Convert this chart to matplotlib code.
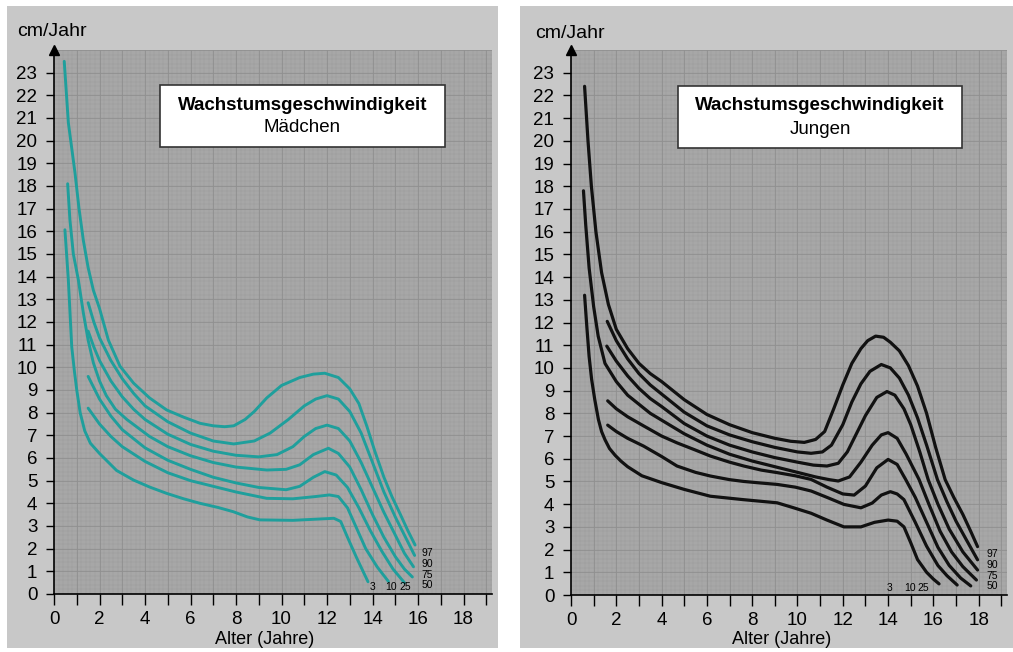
import numpy as np
import matplotlib.pyplot as plt
from matplotlib.patches import Rectangle

plt.rcParams['font.family'] = ['Liberation Sans', 'DejaVu Sans']

# Mädchen (percentile curves, Alter in Jahren / cm pro Jahr)
g97_x = [0.45, 0.63, 0.92, 1.1, 1.29, 1.5, 1.73, 2.0, 2.39, 2.9, 3.5, 4.2, 4.95, 5.7, 6.42, 7.0, 7.5, 7.9, 8.4, 8.8, 9.35, 10.0, 10.8, 11.4, 11.9, 12.5, 13.0, 13.4, 13.75, 14.1, 14.5, 14.85, 15.2, 15.55, 15.87]
g97_y = [23.5, 20.8, 18.6, 17.0, 15.6, 14.4, 13.4, 12.6, 11.2, 10.05, 9.3, 8.65, 8.12, 7.8, 7.53, 7.42, 7.38, 7.42, 7.7, 8.05, 8.65, 9.2, 9.55, 9.7, 9.74, 9.55, 9.05, 8.4, 7.4, 6.3, 5.15, 4.3, 3.56, 2.8, 2.16]
g90_x = [1.5, 1.75, 2.0, 2.5, 3.0, 3.5, 4.0, 5.0, 6.0, 7.0, 7.9, 8.8, 9.5, 10.3, 11.0, 11.5, 12.0, 12.5, 13.0, 13.5, 14.0, 14.5, 15.0, 15.5, 15.85]
g90_y = [12.85, 12.0, 11.3, 10.3, 9.5, 8.85, 8.3, 7.6, 7.1, 6.75, 6.62, 6.75, 7.1, 7.7, 8.3, 8.6, 8.75, 8.6, 8.05, 7.1, 5.8, 4.5, 3.4, 2.4, 1.7]
g75_x = [1.5, 1.75, 2.0, 2.5, 3.0, 3.5, 4.0, 5.0, 6.0, 7.0, 8.0, 9.0, 9.8, 10.5, 11.0, 11.5, 12.0, 12.5, 13.0, 13.5, 14.0, 14.5, 15.0, 15.4, 15.8]
g75_y = [11.6, 10.9, 10.3, 9.4, 8.7, 8.15, 7.7, 7.05, 6.6, 6.3, 6.12, 6.05, 6.15, 6.5, 6.95, 7.3, 7.45, 7.3, 6.75, 5.8, 4.7, 3.6, 2.6, 1.8, 1.2]
g50_x = [0.6, 0.7, 0.85, 1.07, 1.29, 1.5, 1.73, 2.0, 2.3, 2.7, 3.2, 4.2, 5.0, 6.0, 7.0, 8.0, 9.35, 10.2, 10.8, 11.4, 12.06, 12.5, 13.0, 13.5, 14.0, 14.5, 15.0, 15.4, 15.75]
g50_y = [18.1, 16.5, 15.0, 13.86, 12.4, 11.2, 10.2, 9.4, 8.75, 8.15, 7.7, 6.95, 6.5, 6.1, 5.8, 5.6, 5.47, 5.5, 5.7, 6.15, 6.43, 6.2, 5.6, 4.6, 3.5, 2.5, 1.65, 1.1, 0.75]
g25_x = [1.5, 2.0, 2.5, 3.0, 4.0, 5.0, 6.0, 7.0, 8.0, 9.0, 10.2, 10.8, 11.4, 11.9, 12.4, 12.9, 13.4, 13.9, 14.4, 14.9, 15.4]
g25_y = [9.6, 8.6, 7.85, 7.25, 6.45, 5.9, 5.5, 5.15, 4.9, 4.7, 4.6, 4.75, 5.15, 5.4, 5.25, 4.7, 3.8, 2.8, 1.9, 1.1, 0.5]
g10_x = [1.5, 2.0, 2.5, 3.0, 4.0, 5.0, 6.0, 7.0, 8.0, 9.35, 10.5, 11.5, 12.1, 12.5, 12.9, 13.3, 13.7, 14.2, 14.7]
g10_y = [8.2, 7.5, 6.95, 6.5, 5.85, 5.35, 5.0, 4.75, 4.5, 4.22, 4.2, 4.3, 4.37, 4.3, 3.8, 2.9, 2.0, 1.2, 0.55]
g3_x = [0.48, 0.63, 0.78, 0.9, 1.0, 1.15, 1.35, 1.6, 2.0, 2.4, 2.75, 3.49, 4.2, 4.95, 5.7, 6.42, 7.2, 7.88, 8.5, 9.05, 10.5, 12.3, 12.6, 12.9, 13.3, 13.8]
g3_y = [16.07, 13.86, 10.9, 9.8, 9.0, 8.0, 7.2, 6.65, 6.2, 5.8, 5.45, 5.03, 4.72, 4.44, 4.2, 4.0, 3.82, 3.63, 3.4, 3.27, 3.25, 3.34, 3.2, 2.5, 1.6, 0.54]

# Jungen
b97_x = [0.6, 0.75, 0.9, 1.1, 1.35, 1.65, 2.0, 2.5, 3.0, 3.5, 4.0, 5.0, 6.0, 7.0, 8.0, 9.0, 9.7, 10.3, 10.8, 11.2, 11.6, 12.0, 12.4, 12.8, 13.1, 13.45, 13.8, 14.1, 14.5, 14.9, 15.3, 15.7, 16.1, 16.52, 16.9, 17.3, 17.65, 17.95]
b97_y = [22.4, 20.0, 18.0, 16.0, 14.2, 12.8, 11.7, 10.85, 10.2, 9.75, 9.4, 8.6, 7.95, 7.5, 7.15, 6.9, 6.77, 6.72, 6.85, 7.2, 8.2, 9.25, 10.2, 10.85, 11.2, 11.4, 11.35, 11.13, 10.75, 10.1, 9.2, 8.0, 6.5, 5.08, 4.3, 3.55, 2.8, 2.13]
b90_x = [1.6, 2.0, 2.5, 3.0, 3.5, 4.0, 5.0, 6.0, 7.0, 8.0, 9.0, 10.0, 10.6, 11.1, 11.5, 12.0, 12.4, 12.8, 13.2, 13.7, 14.1, 14.5, 14.9, 15.3, 15.7, 16.18, 16.6, 17.0, 17.5, 17.95]
b90_y = [12.05, 11.2, 10.4, 9.75, 9.25, 8.85, 8.05, 7.45, 7.05, 6.75, 6.5, 6.3, 6.24, 6.3, 6.6, 7.5, 8.5, 9.3, 9.85, 10.15, 10.0, 9.55, 8.8, 7.8, 6.6, 5.08, 4.1, 3.25, 2.35, 1.55]
b75_x = [1.58, 2.0, 2.5, 3.0, 3.5, 4.0, 5.0, 6.0, 7.0, 8.0, 9.0, 10.0, 10.7, 11.3, 11.8, 12.2, 12.6, 13.0, 13.5, 13.95, 14.3, 14.7, 15.0, 15.4, 15.77, 16.2, 16.7, 17.3, 17.95]
b75_y = [10.96, 10.3, 9.65, 9.1, 8.65, 8.3, 7.55, 7.0, 6.6, 6.3, 6.05, 5.85, 5.72, 5.68, 5.8, 6.3, 7.1, 7.9, 8.7, 8.96, 8.8, 8.2, 7.5, 6.3, 5.08, 4.0, 2.9, 1.9, 1.1]
b50_x = [0.55, 0.65, 0.8, 1.0, 1.2, 1.5, 2.0, 2.5, 3.0, 3.5, 4.0, 5.0, 6.0, 7.0, 8.0, 9.0, 10.0, 10.8, 11.4, 11.8, 12.3, 12.8, 13.3, 13.7, 14.0, 14.4, 14.8, 15.37, 15.8, 16.3, 16.8, 17.3, 17.9]
b50_y = [17.8, 16.3, 14.4, 12.7, 11.4, 10.2, 9.4, 8.8, 8.4, 8.0, 7.7, 7.1, 6.6, 6.2, 5.9, 5.65, 5.4, 5.2, 5.08, 5.02, 5.2, 5.85, 6.6, 7.05, 7.15, 6.9, 6.2, 5.08, 4.0, 2.8, 1.9, 1.25, 0.66]
b25_x = [1.62, 2.0, 2.5, 3.2, 4.0, 4.68, 5.5, 6.15, 7.0, 7.63, 8.4, 9.1, 9.9, 10.6, 11.3, 12.0, 12.5, 13.0, 13.5, 14.0, 14.4, 14.78, 15.2, 15.7, 16.2, 16.7, 17.2, 17.65]
b25_y = [8.55, 8.2, 7.85, 7.45, 7.0, 6.7, 6.38, 6.12, 5.85, 5.68, 5.5, 5.39, 5.25, 5.09, 4.75, 4.45, 4.4, 4.8, 5.6, 5.97, 5.75, 5.08, 4.3, 3.2, 2.1, 1.3, 0.75, 0.4]
b10_x = [1.62, 2.0, 2.5, 3.2, 4.0, 4.68, 5.5, 6.15, 7.0, 7.63, 8.4, 9.1, 9.9, 10.6, 11.3, 12.05, 12.8, 13.3, 13.7, 14.1, 14.4, 14.7, 15.2, 15.7, 16.2, 16.6, 17.05]
b10_y = [7.48, 7.2, 6.9, 6.56, 6.1, 5.68, 5.4, 5.24, 5.08, 5.0, 4.93, 4.87, 4.75, 4.58, 4.3, 3.99, 3.84, 4.05, 4.4, 4.55, 4.45, 4.2, 3.2, 2.15, 1.3, 0.85, 0.44]
b3_x = [0.6, 0.7, 0.8, 0.91, 1.05, 1.21, 1.35, 1.5, 1.7, 1.95, 2.2, 2.5, 3.13, 4.0, 5.0, 6.15, 7.6, 9.1, 9.8, 10.6, 11.3, 12.05, 12.8, 13.4, 14.0, 14.4, 14.7, 15.0, 15.3, 15.7, 16.0, 16.25]
b3_y = [13.2, 11.8, 10.5, 9.5, 8.6, 7.73, 7.2, 6.84, 6.45, 6.15, 5.9, 5.65, 5.25, 4.95, 4.65, 4.35, 4.2, 4.06, 3.85, 3.6, 3.3, 3.0, 3.0, 3.2, 3.3, 3.25, 3.0, 2.3, 1.56, 1.0, 0.7, 0.49]

right_labels = ['97', '90', '75', '50']
bottom_labels = ['3', '10', '25']
y_ticks = list(range(0, 24))
x_major = list(range(0, 19, 2))
x_minor = list(range(1, 20, 2))

girls = [(g97_x, g97_y), (g90_x, g90_y), (g75_x, g75_y), (g50_x, g50_y),
         (g25_x, g25_y), (g10_x, g10_y), (g3_x, g3_y)]
boys = [(b97_x, b97_y), (b90_x, b90_y), (b75_x, b75_y), (b50_x, b50_y),
        (b25_x, b25_y), (b10_x, b10_y), (b3_x, b3_y)]

W, H = 1013, 652
fig = plt.figure(figsize=(W / 100, H / 100), dpi=100)
fig.patch.set_facecolor('white')

def px(x0, y0, x1, y1):
    # pixel box -> figure fraction rect
    return (x0 / W, 1 - y1 / H, (x1 - x0) / W, (y1 - y0) / H)

# light grey background panels
for box in [(7, 6, 498, 648), (520, 6, 1013, 648)]:
    l, b, w, h = px(*box)
    fig.patches.append(Rectangle((l, b), w, h, transform=fig.transFigure,
                                 facecolor='#c8c8c8', edgecolor='none', zorder=-5))


def panel(rect, curves, color, lw, title, sub, box, right_lab_x, bottom_lab_x,
          ylab_xy, xlab_xy):
    ax = fig.add_axes(px(*rect))
    ax.set_zorder(1)
    ax.set_xlim(0, 19.25)
    ax.set_ylim(0, 24.0)
    ax.set_facecolor('#a7a7a7')
    # mm paper texture
    for v in np.arange(0, 19.3, 0.2):
        ax.axvline(v, color='#9b9b9b', lw=0.35, zorder=0.5)
    for v in np.arange(0, 24.1, 0.2):
        ax.axhline(v, color='#9b9b9b', lw=0.35, zorder=0.5)
    for v in range(1, 20):
        ax.axvline(v, color='#909090', lw=0.6, zorder=0.6)
    for v in range(1, 25):
        ax.axhline(v, color='#909090', lw=0.6, zorder=0.6)

    for xs, ys in curves:
        ax.plot(xs, ys, color=color, lw=lw, solid_capstyle='round',
                solid_joinstyle='round', zorder=3)

    for sp in ['top', 'right']:
        ax.spines[sp].set_visible(False)
    ax.spines['left'].set_linewidth(1.2)
    ax.spines['bottom'].set_linewidth(1.2)
    ax.plot(0, 1, marker='^', color='black', ms=7, transform=ax.transAxes,
            clip_on=False, zorder=5)

    ax.set_yticks(y_ticks)
    ax.set_xticks(x_major)
    ax.set_xticks(x_minor, minor=True)
    ax.tick_params(axis='y', length=6, width=1, labelsize=13.5, pad=6)
    ax.tick_params(axis='x', which='both', length=8, width=1, labelsize=13.5, pad=4)

    for lab, yy in zip(right_labels, [1.8, 1.32, 0.85, 0.38]):
        ax.text(right_lab_x, yy, lab, fontsize=7.5, va='center', ha='left', zorder=4)
    for lab, xx in zip(bottom_labels, bottom_lab_x):
        ax.text(xx, 0.3, lab, fontsize=7.5, va='center', ha='center', zorder=4)

    l, b, w, h = px(*box)
    fig.patches.append(Rectangle((l, b), w, h, transform=fig.transFigure,
                                 facecolor='white', edgecolor='#333333', lw=1.2, zorder=5))
    cx = (box[0] + box[2]) / 2
    fig.text(cx / W, 1 - (box[1] + 20) / H, title, fontsize=13.5, fontweight='bold',
             ha='center', va='center', zorder=6)
    fig.text(cx / W, 1 - (box[1] + 43) / H, sub, fontsize=13.5,
             ha='center', va='center', zorder=6)
    fig.text(ylab_xy[0] / W, 1 - ylab_xy[1] / H, 'cm/Jahr', fontsize=14,
             ha='center', va='center')
    fig.text(xlab_xy[0] / W, 1 - xlab_xy[1] / H, 'Alter (Jahre)', fontsize=13,
             ha='center', va='center')
    return ax


panel((54, 50, 492, 594), girls, '#1f9f9c', 2.1, 'Wachstumsgeschwindigkeit',
      'Mädchen', (160, 85, 445, 147), 16.15, [14.0, 14.8, 15.45], (52, 32), (265, 640))
panel((571, 50, 1007, 595), boys, '#111111', 2.3, 'Wachstumsgeschwindigkeit',
      'Jungen', (678, 86, 962, 148), 18.35, [14.05, 14.95, 15.55], (570, 33), (782, 640))

fig.savefig('out.png', dpi=100)
